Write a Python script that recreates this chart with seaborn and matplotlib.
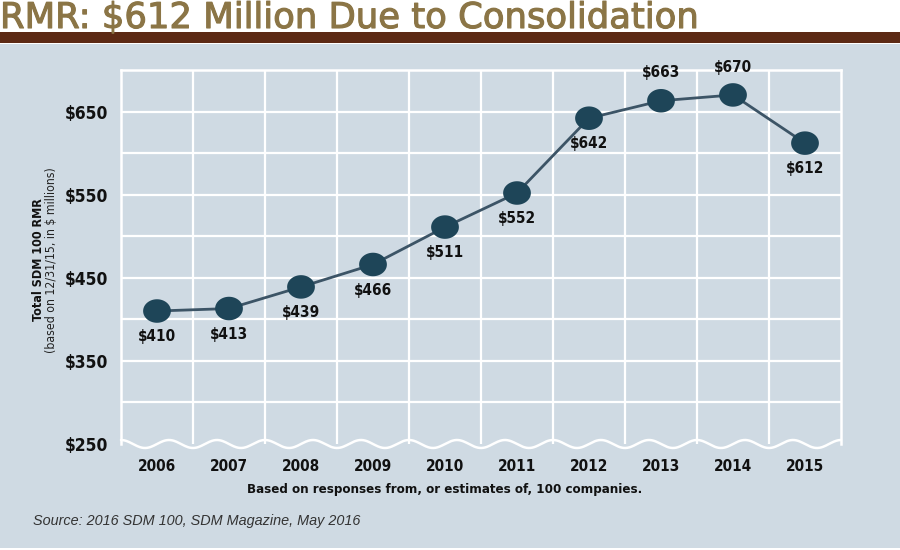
import numpy as np
import pandas as pd
import matplotlib
matplotlib.use("Agg")
import matplotlib.pyplot as plt
import seaborn as sns
from matplotlib.path import Path
from matplotlib.patches import Rectangle
from matplotlib import font_manager
import matplotlib.patheffects as pe

# ---- data ----
years = ["2006", "2007", "2008", "2009", "2010", "2011", "2012", "2013", "2014", "2015"]
rmr = [410, 413, 439, 466, 511, 552, 642, 663, 670, 612]
label_above = [False, False, False, False, False, False, False, True, True, False]
ytick_vals = [250, 350, 450, 550, 650]
ytick_labels = ["$250", "$350", "$450", "$550", "$650"]

title = "RMR: $612 Million Due to Consolidation"
ylabel_main = "Total SDM 100 RMR"
ylabel_sub = "(based on 12/31/15, in $ millions)"
xlabel = "Based on responses from, or estimates of, 100 companies."
source = "Source: 2016 SDM 100, SDM Magazine, May 2016"

BG = "#cfdae3"
TITLE_C = "#8b7546"
BROWN = "#5c2914"
MARK = "#1e4558"
LINE = "#3c5466"

sns.set_theme(style="white")
plt.rcParams["font.family"] = ["Liberation Sans", "DejaVu Sans"]

# pick a condensed face if one is installed
entries = font_manager.fontManager.ttflist
names = {f.name for f in entries}
COND_KW = {"family": ["DejaVu Sans"]}
if "Liberation Sans Narrow" in names:
    COND_KW = {"family": ["Liberation Sans Narrow", "DejaVu Sans"]}
else:
    cands = [f for f in entries if str(f.stretch) in ("condensed", "semi-condensed", "extra-condensed")
             or (isinstance(f.stretch, int) and f.stretch < 500)]
    if cands:
        fam = cands[0].name
        for pref in ["DejaVu Sans", "Open Sans", "Roboto", "Noto Sans", "Inter"]:
            if any(c.name == pref for c in cands):
                fam = pref
                break
        COND_KW = {"family": [fam, "DejaVu Sans"], "stretch": "condensed"}

df = pd.DataFrame({"pos": np.arange(len(years)), "rmr": rmr, "year": years})

fig = plt.figure(figsize=(9, 5.5), dpi=100, facecolor="white")
fig.patches.append(Rectangle((0, 0.004), 1.0, 0.916, transform=fig.transFigure,
                             facecolor=BG, edgecolor="none", zorder=-10))
fig.patches.append(Rectangle((0, 0.9218), 1.0, 0.020, transform=fig.transFigure,
                             facecolor=BROWN, edgecolor="none", zorder=-9))
tt = fig.text(0.0, 1 - 28/550, title, ha="left", va="baseline", fontsize=25.5, color=TITLE_C,
              family=["DejaVu Sans"])
tt.set_path_effects([pe.withStroke(linewidth=0.8, foreground=TITLE_C)])

ax = fig.add_axes([121/900, 1-444/550, 720/900, 374/550])
ax.set_facecolor(BG)
ax.set_xlim(-0.5, 9.5)
ax.set_ylim(250, 700)

for yv in np.arange(300, 700, 50):
    ax.axhline(yv, color="white", lw=1.6, zorder=1)
for xv in np.arange(0.5, 9.5, 1):
    ax.axvline(xv, color="white", lw=1.6, zorder=1)
for s in ["left", "right", "top"]:
    ax.spines[s].set_color("white")
    ax.spines[s].set_linewidth(1.8)
ax.spines["bottom"].set_visible(False)

wx = np.linspace(-0.5, 9.5, 800)
wy = 250 + 4.8 * np.cos(3 * np.pi * (wx + 0.5))
ax.plot(wx, wy, color="white", lw=1.8, clip_on=False, zorder=2)

sns.lineplot(data=df, x="pos", y="rmr", color=LINE, lw=2, ax=ax, zorder=3)

t = np.linspace(0, 2 * np.pi, 60)
ell = Path(np.column_stack([1.18 * np.cos(t), np.sin(t)]))
sns.scatterplot(data=df, x="pos", y="rmr", marker=ell, s=400, color=MARK,
                edgecolor="none", ax=ax, zorder=4)

for i, (v, up) in enumerate(zip(rmr, label_above)):
    ax.annotate(f"${v}", (i, v), xytext=(0, 20 if up else -18.5), textcoords="offset points",
                ha="center", va="center", fontsize=11, fontweight="bold",
                color="#111111", **COND_KW)

ax.set_xticks(df["pos"])
ax.set_xticklabels(years, fontweight="bold", fontsize=11, color="#111111", **COND_KW)
ax.set_yticks(ytick_vals)
ax.set_yticklabels(ytick_labels, fontweight="bold", fontsize=12.5, color="#111111", **COND_KW)
ax.tick_params(axis="both", length=0)
ax.tick_params(axis="x", pad=11)
ax.tick_params(axis="y", pad=9.5)
ax.set_xlabel("")
ax.set_ylabel("")

fig.text(38/900, 1-260/550, ylabel_main, rotation=90, ha="center", va="center",
         fontsize=9, fontweight="bold", color="#111111", **COND_KW)
fig.text(52/900, 1-260/550, ylabel_sub, rotation=90, ha="center", va="center",
         fontsize=8.8, color="#222222", **COND_KW)
fig.text(445/900, 1-490/550, xlabel, ha="center", va="center",
         fontsize=9.5, fontweight="bold", color="#111111", **COND_KW)
fig.text(33/900, 1-521/550, source, ha="left", va="center",
         fontsize=10.4, style="italic", family=["Liberation Sans", "DejaVu Sans"], color="#333333")

fig.savefig("out.png", dpi=100, facecolor=fig.get_facecolor())
